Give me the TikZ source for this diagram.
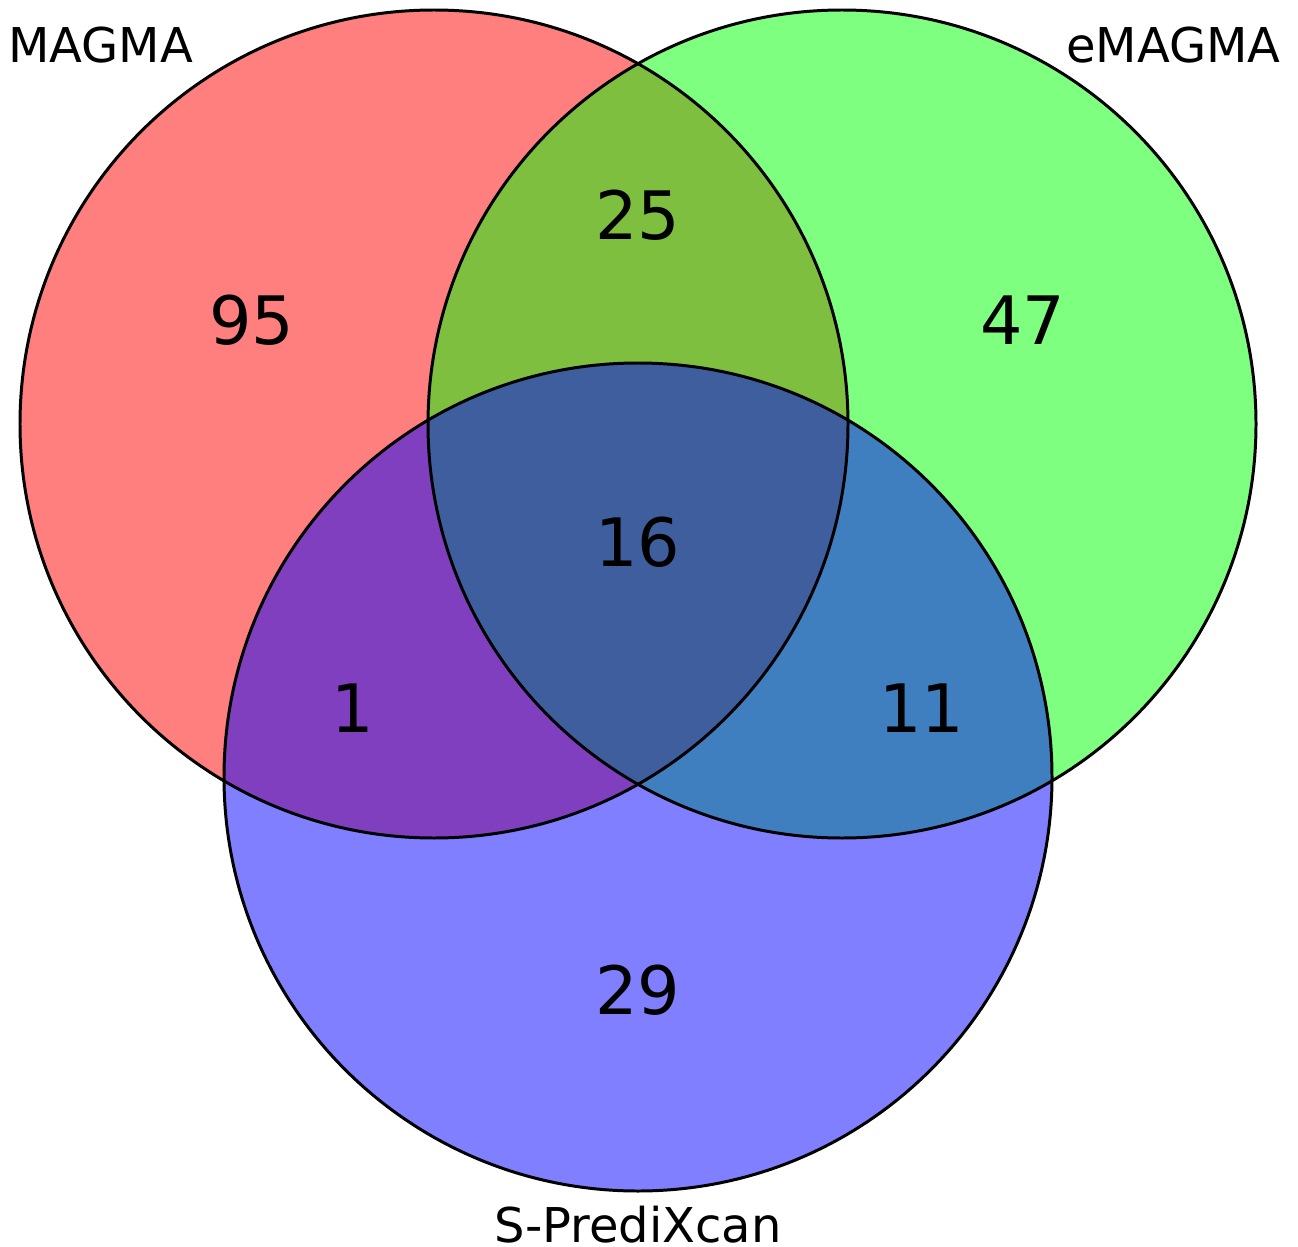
\documentclass[tikz,border=0pt]{standalone}
\usepackage{fontspec}
\setmainfont{DejaVu Sans}
\begin{document}
\begin{tikzpicture}[x=0.02cm, y=-0.02cm,
        set/.style={fill opacity=0.5},
        rim/.style={line width=1.7pt},
        count/.style={font=\fontsize{38}{45}\selectfont, inner sep=0pt},
        setname/.style={font=\fontsize{27.3}{32}\selectfont, inner sep=0pt}]
        \useasboundingbox (0,0) rectangle (1298,1247);
        \coordinate (magma) at (434,424);
        \coordinate (emagma) at (842,424);
        \coordinate (spx) at (638,777);
        % the three sets, stacked half transparent
        \fill[red, set] (magma) circle (414);
        \fill[green, set] (emagma) circle (414);
        \fill[blue, set] (spx) circle (414);
        \draw[rim] (magma) circle (414);
        \draw[rim] (emagma) circle (414);
        \draw[rim] (spx) circle (414);
        % set names
        \node[setname, anchor=base west] (lmagma) at (8,63) {MAGMA};
        \node[setname, anchor=base east] (lemagma) at (1281,63) {eMAGMA};
        \node[setname, anchor=base] (lspx) at (638,1242) {S-PrediXcan};
        % counts per region
        \node[count] (n95) at (252,320) {95};
        \node[count] (n25) at (638,215) {25};
        \node[count] (n47) at (1023,320) {47};
        \node[count] (n16) at (638,542) {16};
        \node[count] (n1) at (353,708) {1};
        \node[count] (n11) at (922,708) {11};
        \node[count] (n29) at (638,990) {29};
    \end{tikzpicture}
\end{document}
